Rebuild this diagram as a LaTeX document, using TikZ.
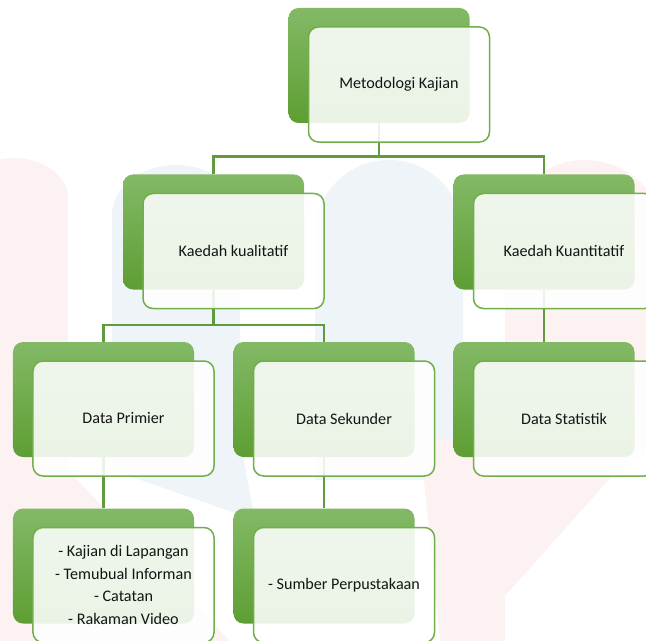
\documentclass[tikz,border=0pt]{standalone}
\usepackage{fontspec}
\setmainfont{Carlito}
\usepackage{tikz}
\usetikzlibrary{positioning}
\definecolor{boxgreen}{RGB}{114,174,75}
\definecolor{gradtop}{RGB}{131,185,102}
\definecolor{gradbot}{RGB}{94,158,51}
\definecolor{linkgreen}{RGB}{96,155,62}
\definecolor{wmpink}{RGB}{253,242,242}
\definecolor{wmblue}{RGB}{239,244,248}
\tikzset{back/.style={rounded corners=10bp,minimum width=181bp,
                      minimum height=115bp,inner sep=0pt,
                      top color=gradtop,bottom color=gradbot}}
\tikzset{front/.style={rounded corners=10bp,minimum width=181bp,
                       minimum height=115bp,inner sep=0pt,
                       draw=boxgreen,line width=1.5bp,
                       fill=white,fill opacity=0.88,text opacity=1,
                       text=black!92,align=center,
                       font=\fontsize{16.2}{22.7}\selectfont}}
\tikzset{link/.style={draw=linkgreen,line width=2.5bp}}
\begin{document}
\begin{tikzpicture}[x=1bp,y=-1bp]

    \useasboundingbox (0,0) rectangle (646,641);
    \clip (0,0) rectangle (646,641);

    % faint logo in the background
    \fill[wmpink] (-40,641) -- (-40,198) arc (180:360:54 and 40) -- (68,470) -- (230,641) -- cycle;
    \fill[wmblue] (112,470) -- (112,215) arc (180:360:64 and 50) -- (240,440) -- (255,520) -- cycle;
    \fill[wmblue] (315,480) -- (315,234) arc (180:360:74) -- (463,480) -- cycle;
    \fill[wmpink] (505,641) -- (505,240) arc (180:360:80) -- (700,420) -- (613,475) -- (465,641) -- cycle;
    \fill[wmpink] (420,440) -- (505,440) -- (505,641) -- (440,641) -- cycle;

    \node[back] (meto) at (379,65.5) {};
    \node[back] (kual) at (213.5,232) {};
    \node[back] (kuan) at (544,232) {};
    \node[back] (prim) at (103.5,399.5) {};
    \node[back] (sek) at (324,399.5) {};
    \node[back] (stat) at (544,399.5) {};
    \node[back] (primlist) at (103.5,566) {};
    \node[back] (seklist) at (324,566) {};

    \draw[link] (meto.south) |- ([yshift=18bp]kual.north) -- (kual.north);
    \draw[link] (meto.south) |- ([yshift=18bp]kuan.north) -- (kuan.north);
    \draw[link] (kual.south) |- ([yshift=17bp]prim.north) -- (prim.north);
    \draw[link] (kual.south) |- ([yshift=17bp]sek.north) -- (sek.north);
    \draw[link] (kuan.south) -- (stat.north);
    \draw[link] (prim.south) -- (primlist.north);
    \draw[link] (sek.south) -- (seklist.north);

    \node[front] (metof) at ([shift={(20,19)}]meto) {Metodologi Kajian};
    \node[front] (kualf) at ([shift={(20,19)}]kual) {Kaedah kualitatif};
    \node[front] (kuanf) at ([shift={(20,19)}]kuan) {Kaedah Kuantitatif};
    \node[front] (primf) at ([shift={(20,19)}]prim) {Data Primier};
    \node[front] (sekf) at ([shift={(20,19)}]sek) {Data Sekunder};
    \node[front] (statf) at ([shift={(20,19)}]stat) {Data Statistik};
    \node[front] (primlistf) at ([shift={(20,19)}]primlist)
        {- Kajian di Lapangan\\- Temubual Informan\\- Catatan\\- Rakaman Video};
    \node[front] (seklistf) at ([shift={(20,19)}]seklist) {- Sumber Perpustakaan};

\end{tikzpicture}
\end{document}
